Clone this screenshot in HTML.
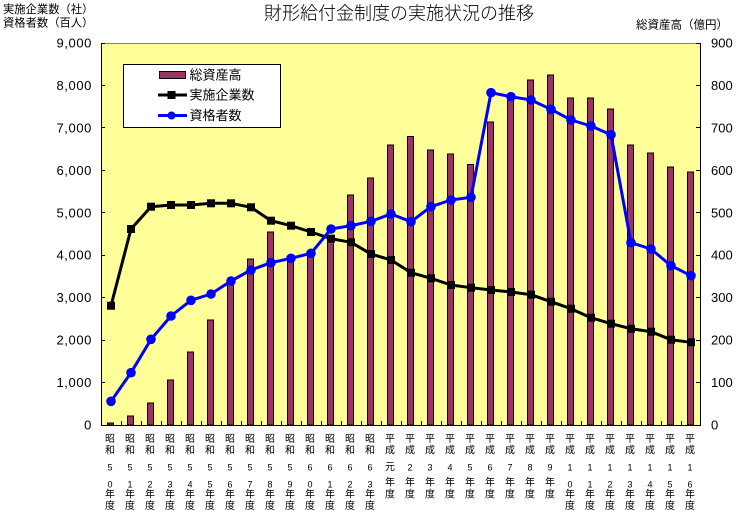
<!DOCTYPE html>
<html>
<head>
<meta charset="utf-8">
<style>
html,body{margin:0;padding:0;background:#fff;}
svg{display:block;}
text{font-family:"Liberation Sans","Noto Sans CJK JP",sans-serif;fill:#000;}
</style>
</head>
<body>
<svg width="737" height="516" viewBox="0 0 737 516" xmlns="http://www.w3.org/2000/svg">
<rect x="0" y="0" width="737" height="516" fill="#fff"/>
<!-- plot area -->
<rect x="101" y="43" width="600" height="382" fill="#FFFF99"/>
<line x1="101" y1="43.5" x2="701" y2="43.5" stroke="#808080" stroke-width="1"/>

<!-- bars -->
<g fill="#993366" stroke="#000" stroke-width="1">
<rect x="107.5" y="423" width="6" height="2"/>
<rect x="127.5" y="416" width="6" height="9"/>
<rect x="147.5" y="403" width="6" height="22"/>
<rect x="167.5" y="380" width="6" height="45"/>
<rect x="187.5" y="352" width="6" height="73"/>
<rect x="207.5" y="320" width="6" height="105"/>
<rect x="227.5" y="282" width="6" height="143"/>
<rect x="247.5" y="259" width="6" height="166"/>
<rect x="267.5" y="232" width="6" height="193"/>
<rect x="287.5" y="258" width="6" height="167"/>
<rect x="307.5" y="253" width="6" height="172"/>
<rect x="327.5" y="238" width="6" height="187"/>
<rect x="347.5" y="195" width="6" height="230"/>
<rect x="367.5" y="178" width="6" height="247"/>
<rect x="387.5" y="145" width="6" height="280"/>
<rect x="407.5" y="136.5" width="6" height="288.5"/>
<rect x="427.5" y="150" width="6" height="275"/>
<rect x="447.5" y="154" width="6" height="271"/>
<rect x="467.5" y="164.5" width="6" height="260.5"/>
<rect x="487.5" y="122" width="6" height="303"/>
<rect x="507.5" y="97" width="6" height="328"/>
<rect x="527.5" y="80" width="6" height="345"/>
<rect x="547.5" y="75" width="6" height="350"/>
<rect x="567.5" y="98" width="6" height="327"/>
<rect x="587.5" y="98" width="6" height="327"/>
<rect x="607.5" y="109" width="6" height="316"/>
<rect x="627.5" y="145" width="6" height="280"/>
<rect x="647.5" y="153" width="6" height="272"/>
<rect x="667.5" y="167" width="6" height="258"/>
<rect x="687.5" y="172" width="6" height="253"/>
</g>

<!-- axes -->
<line x1="101.5" y1="43" x2="101.5" y2="425" stroke="#000"/>
<line x1="700.5" y1="43" x2="700.5" y2="425" stroke="#000"/>
<line x1="101" y1="425.5" x2="701" y2="425.5" stroke="#000"/>
<g stroke="#000" stroke-width="1">
<line x1="101" y1="43.5" x2="105" y2="43.5"/>
<line x1="101" y1="85.5" x2="105" y2="85.5"/>
<line x1="101" y1="127.5" x2="105" y2="127.5"/>
<line x1="101" y1="170.5" x2="105" y2="170.5"/>
<line x1="101" y1="212.5" x2="105" y2="212.5"/>
<line x1="101" y1="255.5" x2="105" y2="255.5"/>
<line x1="101" y1="297.5" x2="105" y2="297.5"/>
<line x1="101" y1="340.5" x2="105" y2="340.5"/>
<line x1="101" y1="382.5" x2="105" y2="382.5"/>
<line x1="696" y1="43.5" x2="700" y2="43.5"/>
<line x1="696" y1="85.5" x2="700" y2="85.5"/>
<line x1="696" y1="127.5" x2="700" y2="127.5"/>
<line x1="696" y1="170.5" x2="700" y2="170.5"/>
<line x1="696" y1="212.5" x2="700" y2="212.5"/>
<line x1="696" y1="255.5" x2="700" y2="255.5"/>
<line x1="696" y1="297.5" x2="700" y2="297.5"/>
<line x1="696" y1="340.5" x2="700" y2="340.5"/>
<line x1="696" y1="382.5" x2="700" y2="382.5"/>
<path d="M121.5 425V421M141.5 425V421M161.5 425V421M181.5 425V421M201.5 425V421M221.5 425V421M241.5 425V421M261.5 425V421M281.5 425V421M301.5 425V421M321.5 425V421M341.5 425V421M361.5 425V421M381.5 425V421M401.5 425V421M421.5 425V421M441.5 425V421M461.5 425V421M481.5 425V421M501.5 425V421M521.5 425V421M541.5 425V421M561.5 425V421M581.5 425V421M601.5 425V421M621.5 425V421M641.5 425V421M661.5 425V421M681.5 425V421"/>
</g>

<!-- black line 実施企業数 -->
<polyline fill="none" stroke="#000" stroke-width="3" stroke-linejoin="round" points="111,305.7 131,229 151,206.7 171,205 191,205 211,203.3 231,203.3 251,207.3 271,220.7 291,225.7 311,232 331,238.7 351,242.3 371,254 391,260 411,272.7 431,278.3 451,285 471,287.7 491,290 511,292 531,294.7 551,301.7 571,308.7 591,317.7 611,323.7 631,328.7 651,331.7 671,339.7 691,342.3"/>
<g fill="#000">
<rect x="107" y="301.7" width="8" height="8"/>
<rect x="127" y="225" width="8" height="8"/>
<rect x="147" y="202.7" width="8" height="8"/>
<rect x="167" y="201" width="8" height="8"/>
<rect x="187" y="201" width="8" height="8"/>
<rect x="207" y="199.3" width="8" height="8"/>
<rect x="227" y="199.3" width="8" height="8"/>
<rect x="247" y="203.3" width="8" height="8"/>
<rect x="267" y="216.7" width="8" height="8"/>
<rect x="287" y="221.7" width="8" height="8"/>
<rect x="307" y="228" width="8" height="8"/>
<rect x="327" y="234.7" width="8" height="8"/>
<rect x="347" y="238.3" width="8" height="8"/>
<rect x="367" y="250" width="8" height="8"/>
<rect x="387" y="256" width="8" height="8"/>
<rect x="407" y="268.7" width="8" height="8"/>
<rect x="427" y="274.3" width="8" height="8"/>
<rect x="447" y="281" width="8" height="8"/>
<rect x="467" y="283.7" width="8" height="8"/>
<rect x="487" y="286" width="8" height="8"/>
<rect x="507" y="288" width="8" height="8"/>
<rect x="527" y="290.7" width="8" height="8"/>
<rect x="547" y="297.7" width="8" height="8"/>
<rect x="567" y="304.7" width="8" height="8"/>
<rect x="587" y="313.7" width="8" height="8"/>
<rect x="607" y="319.7" width="8" height="8"/>
<rect x="627" y="324.7" width="8" height="8"/>
<rect x="647" y="327.7" width="8" height="8"/>
<rect x="667" y="335.7" width="8" height="8"/>
<rect x="687" y="338.3" width="8" height="8"/>
</g>

<!-- blue line 資格者数 -->
<polyline fill="none" stroke="#0000FF" stroke-width="3" stroke-linejoin="round" points="111,401.3 131,372.7 151,339.3 171,316 191,300.3 211,294 231,281 251,270 271,262.7 291,258.3 311,253.3 331,229 351,225.7 371,221.3 391,214 411,221.7 431,206.7 451,200 471,197.3 491,92.7 511,96.7 531,100 551,109.3 571,120 591,126 611,134.7 631,242.7 651,249 671,265.7 691,275.7"/>
<g fill="#0000FF">
<circle cx="111" cy="401.3" r="4.8"/>
<circle cx="131" cy="372.7" r="4.8"/>
<circle cx="151" cy="339.3" r="4.8"/>
<circle cx="171" cy="316" r="4.8"/>
<circle cx="191" cy="300.3" r="4.8"/>
<circle cx="211" cy="294" r="4.8"/>
<circle cx="231" cy="281" r="4.8"/>
<circle cx="251" cy="270" r="4.8"/>
<circle cx="271" cy="262.7" r="4.8"/>
<circle cx="291" cy="258.3" r="4.8"/>
<circle cx="311" cy="253.3" r="4.8"/>
<circle cx="331" cy="229" r="4.8"/>
<circle cx="351" cy="225.7" r="4.8"/>
<circle cx="371" cy="221.3" r="4.8"/>
<circle cx="391" cy="214" r="4.8"/>
<circle cx="411" cy="221.7" r="4.8"/>
<circle cx="431" cy="206.7" r="4.8"/>
<circle cx="451" cy="200" r="4.8"/>
<circle cx="471" cy="197.3" r="4.8"/>
<circle cx="491" cy="92.7" r="4.8"/>
<circle cx="511" cy="96.7" r="4.8"/>
<circle cx="531" cy="100" r="4.8"/>
<circle cx="551" cy="109.3" r="4.8"/>
<circle cx="571" cy="120" r="4.8"/>
<circle cx="591" cy="126" r="4.8"/>
<circle cx="611" cy="134.7" r="4.8"/>
<circle cx="631" cy="242.7" r="4.8"/>
<circle cx="651" cy="249" r="4.8"/>
<circle cx="671" cy="265.7" r="4.8"/>
<circle cx="691" cy="275.7" r="4.8"/>
</g>

<!-- legend -->
<rect x="123.5" y="64.5" width="157" height="63" fill="#fff" stroke="#000"/>
<rect x="159.5" y="71.5" width="26" height="7" fill="#993366" stroke="#000"/>
<line x1="158" y1="95" x2="187" y2="95" stroke="#000" stroke-width="3"/>
<rect x="167.5" y="91" width="8" height="8" fill="#000"/>
<line x1="158" y1="115.5" x2="187" y2="115.5" stroke="#0000FF" stroke-width="3"/>
<circle cx="171.5" cy="115.5" r="4" fill="#0000FF"/>
<g font-size="13" dominant-baseline="central">
<text x="189.5" y="75">総資産高</text>
<text x="189.5" y="95">実施企業数</text>
<text x="189.5" y="115.5">資格者数</text>
</g>

<!-- title -->
<text x="399" y="13.5" font-size="18" font-weight="300" text-anchor="middle" dominant-baseline="central">財形給付金制度の実施状況の推移</text>
<text x="3" y="10" font-size="11.3" dominant-baseline="central">実施企業数（社）</text>
<text x="3" y="23.3" font-size="11.3" dominant-baseline="central">資格者数（百人）</text>
<text x="636" y="25.7" font-size="11.5" dominant-baseline="central">総資産高（億円）</text>

<!-- left axis labels -->
<g font-size="13" text-anchor="end" dominant-baseline="central" letter-spacing="0.6">
<text x="92" y="43">9,000</text>
<text x="92" y="85.4">8,000</text>
<text x="92" y="127.9">7,000</text>
<text x="92" y="170.3">6,000</text>
<text x="92" y="212.8">5,000</text>
<text x="92" y="255.2">4,000</text>
<text x="92" y="297.7">3,000</text>
<text x="92" y="340.1">2,000</text>
<text x="92" y="382.6">1,000</text>
<text x="92" y="425">0</text>
</g>
<!-- right axis labels -->
<g font-size="13" dominant-baseline="central">
<text x="711" y="43">900</text>
<text x="711" y="85.4">800</text>
<text x="711" y="127.9">700</text>
<text x="711" y="170.3">600</text>
<text x="711" y="212.8">500</text>
<text x="711" y="255.2">400</text>
<text x="711" y="297.7">300</text>
<text x="711" y="340.1">200</text>
<text x="711" y="382.6">100</text>
<text x="711" y="425">0</text>
</g>

<!-- x axis labels -->
<g font-size="10" text-anchor="middle" dominant-baseline="central">
<g><text x="110" y="439.5">昭</text><text x="110" y="451">和</text><text x="110" y="467.5" font-size="9">5</text><text x="110" y="484.5" font-size="9">0</text><text x="110" y="495">年</text><text x="110" y="506.3">度</text></g>
<g><text x="130" y="439.5">昭</text><text x="130" y="451">和</text><text x="130" y="467.5" font-size="9">5</text><text x="130" y="484.5" font-size="9">1</text><text x="130" y="495">年</text><text x="130" y="506.3">度</text></g>
<g><text x="150" y="439.5">昭</text><text x="150" y="451">和</text><text x="150" y="467.5" font-size="9">5</text><text x="150" y="484.5" font-size="9">2</text><text x="150" y="495">年</text><text x="150" y="506.3">度</text></g>
<g><text x="170" y="439.5">昭</text><text x="170" y="451">和</text><text x="170" y="467.5" font-size="9">5</text><text x="170" y="484.5" font-size="9">3</text><text x="170" y="495">年</text><text x="170" y="506.3">度</text></g>
<g><text x="190" y="439.5">昭</text><text x="190" y="451">和</text><text x="190" y="467.5" font-size="9">5</text><text x="190" y="484.5" font-size="9">4</text><text x="190" y="495">年</text><text x="190" y="506.3">度</text></g>
<g><text x="210" y="439.5">昭</text><text x="210" y="451">和</text><text x="210" y="467.5" font-size="9">5</text><text x="210" y="484.5" font-size="9">5</text><text x="210" y="495">年</text><text x="210" y="506.3">度</text></g>
<g><text x="230" y="439.5">昭</text><text x="230" y="451">和</text><text x="230" y="467.5" font-size="9">5</text><text x="230" y="484.5" font-size="9">6</text><text x="230" y="495">年</text><text x="230" y="506.3">度</text></g>
<g><text x="250" y="439.5">昭</text><text x="250" y="451">和</text><text x="250" y="467.5" font-size="9">5</text><text x="250" y="484.5" font-size="9">7</text><text x="250" y="495">年</text><text x="250" y="506.3">度</text></g>
<g><text x="270" y="439.5">昭</text><text x="270" y="451">和</text><text x="270" y="467.5" font-size="9">5</text><text x="270" y="484.5" font-size="9">8</text><text x="270" y="495">年</text><text x="270" y="506.3">度</text></g>
<g><text x="290" y="439.5">昭</text><text x="290" y="451">和</text><text x="290" y="467.5" font-size="9">5</text><text x="290" y="484.5" font-size="9">9</text><text x="290" y="495">年</text><text x="290" y="506.3">度</text></g>
<g><text x="310" y="439.5">昭</text><text x="310" y="451">和</text><text x="310" y="467.5" font-size="9">6</text><text x="310" y="484.5" font-size="9">0</text><text x="310" y="495">年</text><text x="310" y="506.3">度</text></g>
<g><text x="330" y="439.5">昭</text><text x="330" y="451">和</text><text x="330" y="467.5" font-size="9">6</text><text x="330" y="484.5" font-size="9">1</text><text x="330" y="495">年</text><text x="330" y="506.3">度</text></g>
<g><text x="350" y="439.5">昭</text><text x="350" y="451">和</text><text x="350" y="467.5" font-size="9">6</text><text x="350" y="484.5" font-size="9">2</text><text x="350" y="495">年</text><text x="350" y="506.3">度</text></g>
<g><text x="370" y="439.5">昭</text><text x="370" y="451">和</text><text x="370" y="467.5" font-size="9">6</text><text x="370" y="484.5" font-size="9">3</text><text x="370" y="495">年</text><text x="370" y="506.3">度</text></g>
<g><text x="390" y="439.5">平</text><text x="390" y="451">成</text><text x="390" y="467.5">元</text><text x="390" y="483">年</text><text x="390" y="495">度</text></g>
<g><text x="410" y="439.5">平</text><text x="410" y="451">成</text><text x="410" y="467.5" font-size="9">2</text><text x="410" y="483">年</text><text x="410" y="495">度</text></g>
<g><text x="430" y="439.5">平</text><text x="430" y="451">成</text><text x="430" y="467.5" font-size="9">3</text><text x="430" y="483">年</text><text x="430" y="495">度</text></g>
<g><text x="450" y="439.5">平</text><text x="450" y="451">成</text><text x="450" y="467.5" font-size="9">4</text><text x="450" y="483">年</text><text x="450" y="495">度</text></g>
<g><text x="470" y="439.5">平</text><text x="470" y="451">成</text><text x="470" y="467.5" font-size="9">5</text><text x="470" y="483">年</text><text x="470" y="495">度</text></g>
<g><text x="490" y="439.5">平</text><text x="490" y="451">成</text><text x="490" y="467.5" font-size="9">6</text><text x="490" y="483">年</text><text x="490" y="495">度</text></g>
<g><text x="510" y="439.5">平</text><text x="510" y="451">成</text><text x="510" y="467.5" font-size="9">7</text><text x="510" y="483">年</text><text x="510" y="495">度</text></g>
<g><text x="530" y="439.5">平</text><text x="530" y="451">成</text><text x="530" y="467.5" font-size="9">8</text><text x="530" y="483">年</text><text x="530" y="495">度</text></g>
<g><text x="550" y="439.5">平</text><text x="550" y="451">成</text><text x="550" y="467.5" font-size="9">9</text><text x="550" y="483">年</text><text x="550" y="495">度</text></g>
<g><text x="570" y="439.5">平</text><text x="570" y="451">成</text><text x="570" y="467.5" font-size="9">1</text><text x="570" y="484.5" font-size="9">0</text><text x="570" y="495">年</text><text x="570" y="506.3">度</text></g>
<g><text x="590" y="439.5">平</text><text x="590" y="451">成</text><text x="590" y="467.5" font-size="9">1</text><text x="590" y="484.5" font-size="9">1</text><text x="590" y="495">年</text><text x="590" y="506.3">度</text></g>
<g><text x="610" y="439.5">平</text><text x="610" y="451">成</text><text x="610" y="467.5" font-size="9">1</text><text x="610" y="484.5" font-size="9">2</text><text x="610" y="495">年</text><text x="610" y="506.3">度</text></g>
<g><text x="630" y="439.5">平</text><text x="630" y="451">成</text><text x="630" y="467.5" font-size="9">1</text><text x="630" y="484.5" font-size="9">3</text><text x="630" y="495">年</text><text x="630" y="506.3">度</text></g>
<g><text x="650" y="439.5">平</text><text x="650" y="451">成</text><text x="650" y="467.5" font-size="9">1</text><text x="650" y="484.5" font-size="9">4</text><text x="650" y="495">年</text><text x="650" y="506.3">度</text></g>
<g><text x="670" y="439.5">平</text><text x="670" y="451">成</text><text x="670" y="467.5" font-size="9">1</text><text x="670" y="484.5" font-size="9">5</text><text x="670" y="495">年</text><text x="670" y="506.3">度</text></g>
<g><text x="690" y="439.5">平</text><text x="690" y="451">成</text><text x="690" y="467.5" font-size="9">1</text><text x="690" y="484.5" font-size="9">6</text><text x="690" y="495">年</text><text x="690" y="506.3">度</text></g>
</g>
</svg>
</body>
</html>
